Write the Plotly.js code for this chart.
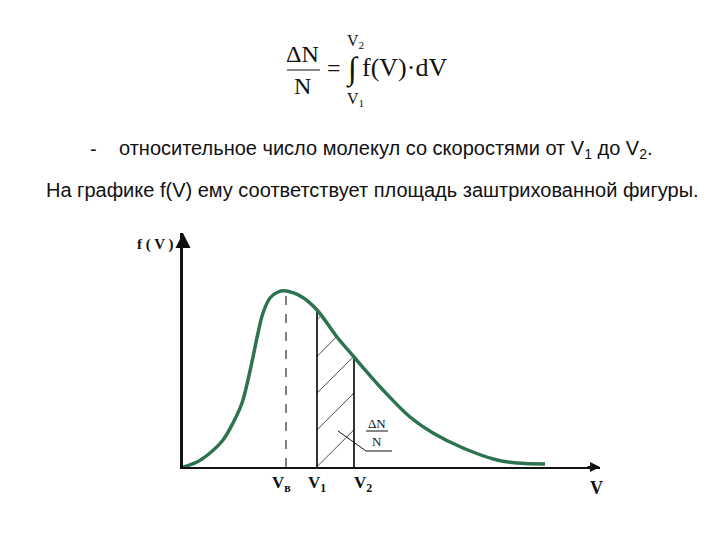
<!DOCTYPE html>
<html>
<head>
<meta charset="utf-8">
<script src="https://cdn.plot.ly/plotly-3.0.1.min.js"></script>
<style>html,body{margin:0;padding:0;background:#fff;}#chart{width:720px;height:540px;}</style>
</head>
<body>
<div id="chart"></div>
<script>
// Maxwell distribution curve f(V) (arbitrary units)
const speedV = [0, 1.4, 2.7, 4.0, 5.0, 5.9, 6.5, 7.0, 7.5, 8.0, 8.7, 9.5, 10.3, 11.9, 13.4, 15.4, 17.1, 20.0, 22.7, 25.0, 28.0, 31.4, 33.4, 36.2];
const densityF = [0, 0.5, 1.4, 2.7, 4.4, 6.4, 8.7, 11.0, 13.4, 15.4, 16.9, 17.5, 17.6, 17.0, 15.7, 13.0, 11.0, 7.7, 5.0, 3.4, 1.9, 0.7, 0.4, 0.3];
// marked speeds: most probable, V1, V2
const markNames = ['V<sub>в</sub>', 'V<sub>1</sub>', 'V<sub>2</sub>'];
const markV = [10.3, 13.4, 17.1];
const markF = [17.6, 15.7, 11.0];

const L = 183, T = 233, W = 417, H = 234;
function P(x, y) { return {x: (x - L) / W, y: (T + H - y) / H}; }

const traces = [];
// hatched area between V1 and V2
const hx = [], hy = [];
for (let i = 0; i < speedV.length; i++) {
  if (speedV[i] >= markV[1] && speedV[i] <= markV[2]) { hx.push(speedV[i]); hy.push(densityF[i]); }
}
traces.push({x: hx, y: hy, type: 'scatter', mode: 'lines', fill: 'tozeroy',
  line: {width: 0, shape: 'spline'}, fillcolor: 'rgba(0,0,0,0)',
  fillpattern: {shape: '/', size: 26, solidity: 0.035, fgcolor: '#333', bgcolor: 'rgba(255,255,255,0)'},
  hoverinfo: 'skip', showlegend: false});
// vertical markers
markV.forEach((v, i) => {
  traces.push({x: [v, v], y: [0, markF[i]], type: 'scatter', mode: 'lines',
    line: {color: '#000', width: i === 0 ? 1 : 1.6, dash: i === 0 ? 'dash' : 'solid'},
    hoverinfo: 'skip', showlegend: false});
});
// curve
traces.push({x: speedV, y: densityF, type: 'scatter', mode: 'lines',
  line: {color: '#2e7350', width: 3.5, shape: 'spline', smoothing: 1},
  hoverinfo: 'skip', showlegend: false});

const serif = 'Liberation Serif, Times New Roman, serif';
const sans = 'Liberation Sans, Arial, sans-serif';
function ann(px, py, text, size, font, extra) {
  const p = P(px, py);
  return Object.assign({xref: 'paper', yref: 'paper', x: p.x, y: p.y, text: text, showarrow: false,
    xanchor: 'center', yanchor: 'middle', font: {family: font, size: size, color: '#111'}}, extra || {});
}
function seg(x0, y0, x1, y1, w) {
  const a = P(x0, y0), b = P(x1, y1);
  return {type: 'line', xref: 'paper', yref: 'paper', x0: a.x, y0: a.y, x1: b.x, y1: b.y, line: {color: '#111', width: w || 1}};
}

const annotations = [
  // formula
  ann(302, 54, 'ΔN', 24, serif),
  ann(302, 86, 'N', 24, serif),
  ann(334, 68, '=', 24, serif),
  ann(352, 69, '∫', 32, serif),
  ann(355, 41, 'V<sub>2</sub>', 16, serif),
  ann(355, 99, 'V<sub>1</sub>', 16, serif),
  ann(404, 67, 'f(V)·dV', 26, serif),
  // text lines
  ann(93, 149, '-', 20, sans),
  ann(117, 149, 'относительное число молекул со скоростями от V<sub>1</sub> до V<sub>2</sub>.', 20, sans, {xanchor: 'left'}),
  ann(44, 190, 'На графике f(V) ему соответствует площадь заштрихованной фигуры.', 20, sans, {xanchor: 'left'}),
  // axis labels
  ann(155, 244, '<b>f ( V )</b>', 15, serif),
  ann(596, 488, '<b>V</b>', 18, serif),
  // ΔN/N fraction
  ann(377, 423, 'ΔN', 13, serif),
  ann(377, 441, 'N', 13, serif),
  // axis arrows
  {xref: 'paper', yref: 'paper', x: 1, y: 0, ax: -14, ay: 0, text: '', showarrow: true, arrowhead: 2, arrowsize: 1, arrowwidth: 2, arrowcolor: '#111'},
  {xref: 'paper', yref: 'paper', x: 0, y: 1, ax: 0, ay: 14, text: '', showarrow: true, arrowhead: 2, arrowsize: 1, arrowwidth: 3, arrowcolor: '#111'}
];
// speed labels under axis
const labelShift = [-5, 0, 9];
markV.forEach((v, i) => {
  annotations.push({xref: 'x', yref: 'paper', x: v, y: P(0, 484).y, xshift: labelShift[i], text: '<b>' + markNames[i] + '</b>',
    showarrow: false, xanchor: 'center', yanchor: 'middle', font: {family: serif, size: 17, color: '#111'}});
});

const shapes = [
  seg(287, 70, 320, 70, 1.2),
  seg(366, 431, 388, 431, 1),
  seg(338, 431, 366, 451, 1),
  seg(366, 451, 392, 451, 1)
];

const layout = {
  width: 720, height: 540,
  margin: {l: L, r: 720 - L - W, t: T, b: 540 - T - H},
  paper_bgcolor: '#fff', plot_bgcolor: '#fff',
  showlegend: false,
  xaxis: {range: [0, 41.7], showline: true, linecolor: '#111', linewidth: 2, showgrid: false, zeroline: false, showticklabels: false, ticks: ''},
  yaxis: {range: [0, 23.4], showline: true, linecolor: '#111', linewidth: 3, showgrid: false, zeroline: false, showticklabels: false, ticks: ''},
  annotations: annotations,
  shapes: shapes
};
Plotly.newPlot('chart', traces, layout, {displayModeBar: false, staticPlot: true});
</script>
</body>
</html>
